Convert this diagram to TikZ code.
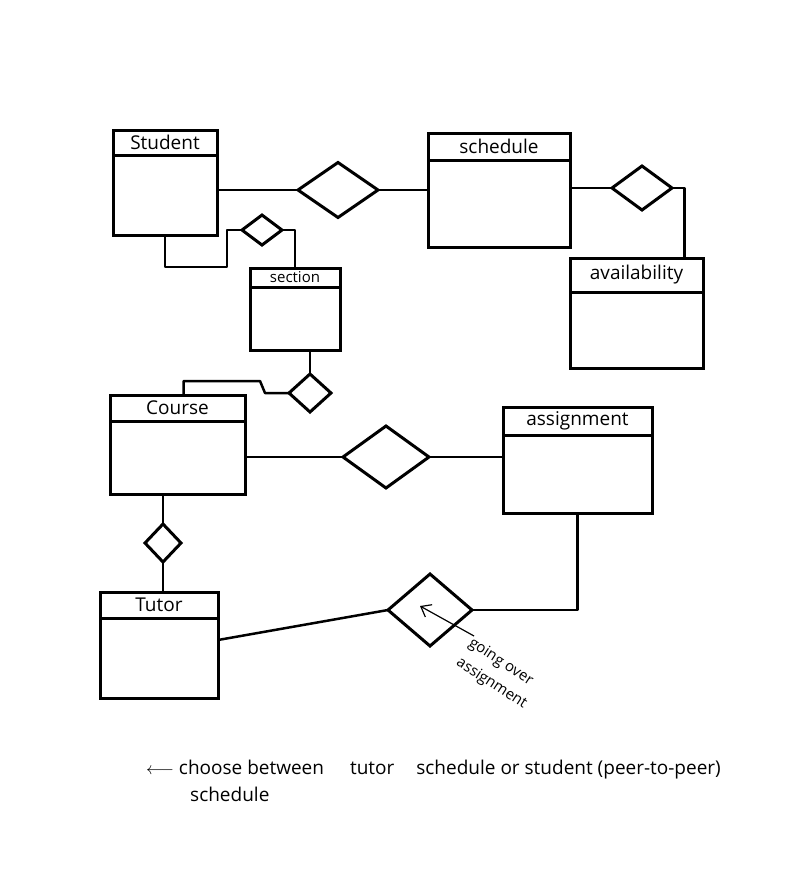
\documentclass[tikz,border=0pt]{standalone}
\usepackage{fontspec}
\setmainfont{Open Sans}
\usepackage{tikz}
\usetikzlibrary{positioning,arrows.meta,shapes.geometric}
\newcommand{\TitleFont}{\fontsize{19}{22}\selectfont}
\newcommand{\LabelFont}{\fontsize{15}{23}\selectfont}
\newcommand{\NoteFont}{\fontsize{19}{27}\selectfont}

\begin{document}
\begin{tikzpicture}[x=1pt, y=-1pt,
  entity/.style={draw, line width=3pt, outer sep=0pt, inner sep=0pt},
  etitle/.style={entity, font=\TitleFont},
  rel/.style={draw, diamond, line width=3pt, inner sep=0pt, outer sep=0pt},
  link/.style={line width=2.5pt, line join=round},
  arrow/.style={-{Straight Barb[length=9pt,width=14pt]}, line width=1.2pt},
  note/.style={align=left, inner sep=0pt}
]
\path[use as bounding box, fill=white] (0,0) rectangle (798,889);

\node[etitle, minimum width=104, minimum height=25] (studentT) at (165,142.5) {Student};
\node[entity, minimum width=104, minimum height=80, below=0pt of studentT] (student) {};
\node[etitle, minimum width=142, minimum height=27] (scheduleT) at (499,146.5) {schedule};
\node[entity, minimum width=142, minimum height=87, below=0pt of scheduleT] (schedule) {};
\node[etitle, minimum width=133, minimum height=34] (availT) at (636.5,275) {availability};
\node[entity, minimum width=133, minimum height=76, below=0pt of availT] (avail) {};
\node[etitle, minimum width=90, minimum height=19, font=\LabelFont] (sectionT) at (295,277.5) {section};
\node[entity, minimum width=90, minimum height=63, below=0pt of sectionT] (section) {};
\node[etitle, minimum width=135, minimum height=26] (courseT) at (177.5,408) {Course};
\node[entity, minimum width=135, minimum height=73, below=0pt of courseT] (course) {};
\node[etitle, minimum width=149, minimum height=28] (assignT) at (577.5,421) {assignment};
\node[entity, minimum width=149, minimum height=78, below=0pt of assignT] (assign) {};
\node[etitle, minimum width=118, minimum height=26] (tutorT) at (159,605) {Tutor};
\node[entity, minimum width=118, minimum height=80, below=0pt of tutorT] (tutor) {};

\node[rel, minimum width=80, minimum height=55] (d1) at (338,190) {};
\node[rel, minimum width=40, minimum height=30] (d2) at (262,230) {};
\node[rel, minimum width=60, minimum height=44] (d3) at (642,188) {};
\node[rel, minimum width=42, minimum height=38] (d4) at (310,393) {};
\node[rel, minimum width=86, minimum height=62] (d5) at (386,457) {};
\node[rel, minimum width=36, minimum height=38] (d6) at (163,543) {};
\node[rel, minimum width=84, minimum height=72] (d7) at (430,610) {};

\draw[link] (student.east |- d1.west) -- (d1.west);
\draw[link] (d1.east) -- (d1.east -| schedule.west);
\draw[link] (student.south) -- ++(0,32) -- ++(62,0) |- (d2.west);
\draw[link] (d2.east) -| (sectionT.north);
\draw[link] (schedule.east |- d3.west) -- (d3.west);
\draw[link] (d3.east) -| ([xshift=48pt]availT.north);
\draw[link] (d4.north) -- (d4.north |- section.south);
\draw[link] (d4.west) -- ++(-24,0) -- ++(-5,-12) -| ([xshift=6pt]courseT.north);
\draw[link] (course.east |- d5.west) -- (d5.west);
\draw[link] (d5.east) -- (d5.east -| assign.west);
\draw[link] (d6.north) -- (d6.north |- course.south);
\draw[link] (d6.south) -- (d6.south |- tutorT.north);
\draw[link] ([yshift=18pt]tutor.east) -- (d7.west);
\draw[link] (d7.east) -| (assign.south);

\node[note, font=\LabelFont, rotate=-33, anchor=north west] (going) at (474,636) {going over\\assignment};
\draw[arrow] (going.north west) -- ([xshift=-10pt, yshift=4pt]d7.center);

\node[note, font=\NoteFont, anchor=north west] (choose) at (146,760) {$\longleftarrow$ choose between\hspace{26pt}tutor\hspace{22pt}schedule or student (peer-to-peer)\\\hspace{44pt}schedule};
\end{tikzpicture}
\end{document}
